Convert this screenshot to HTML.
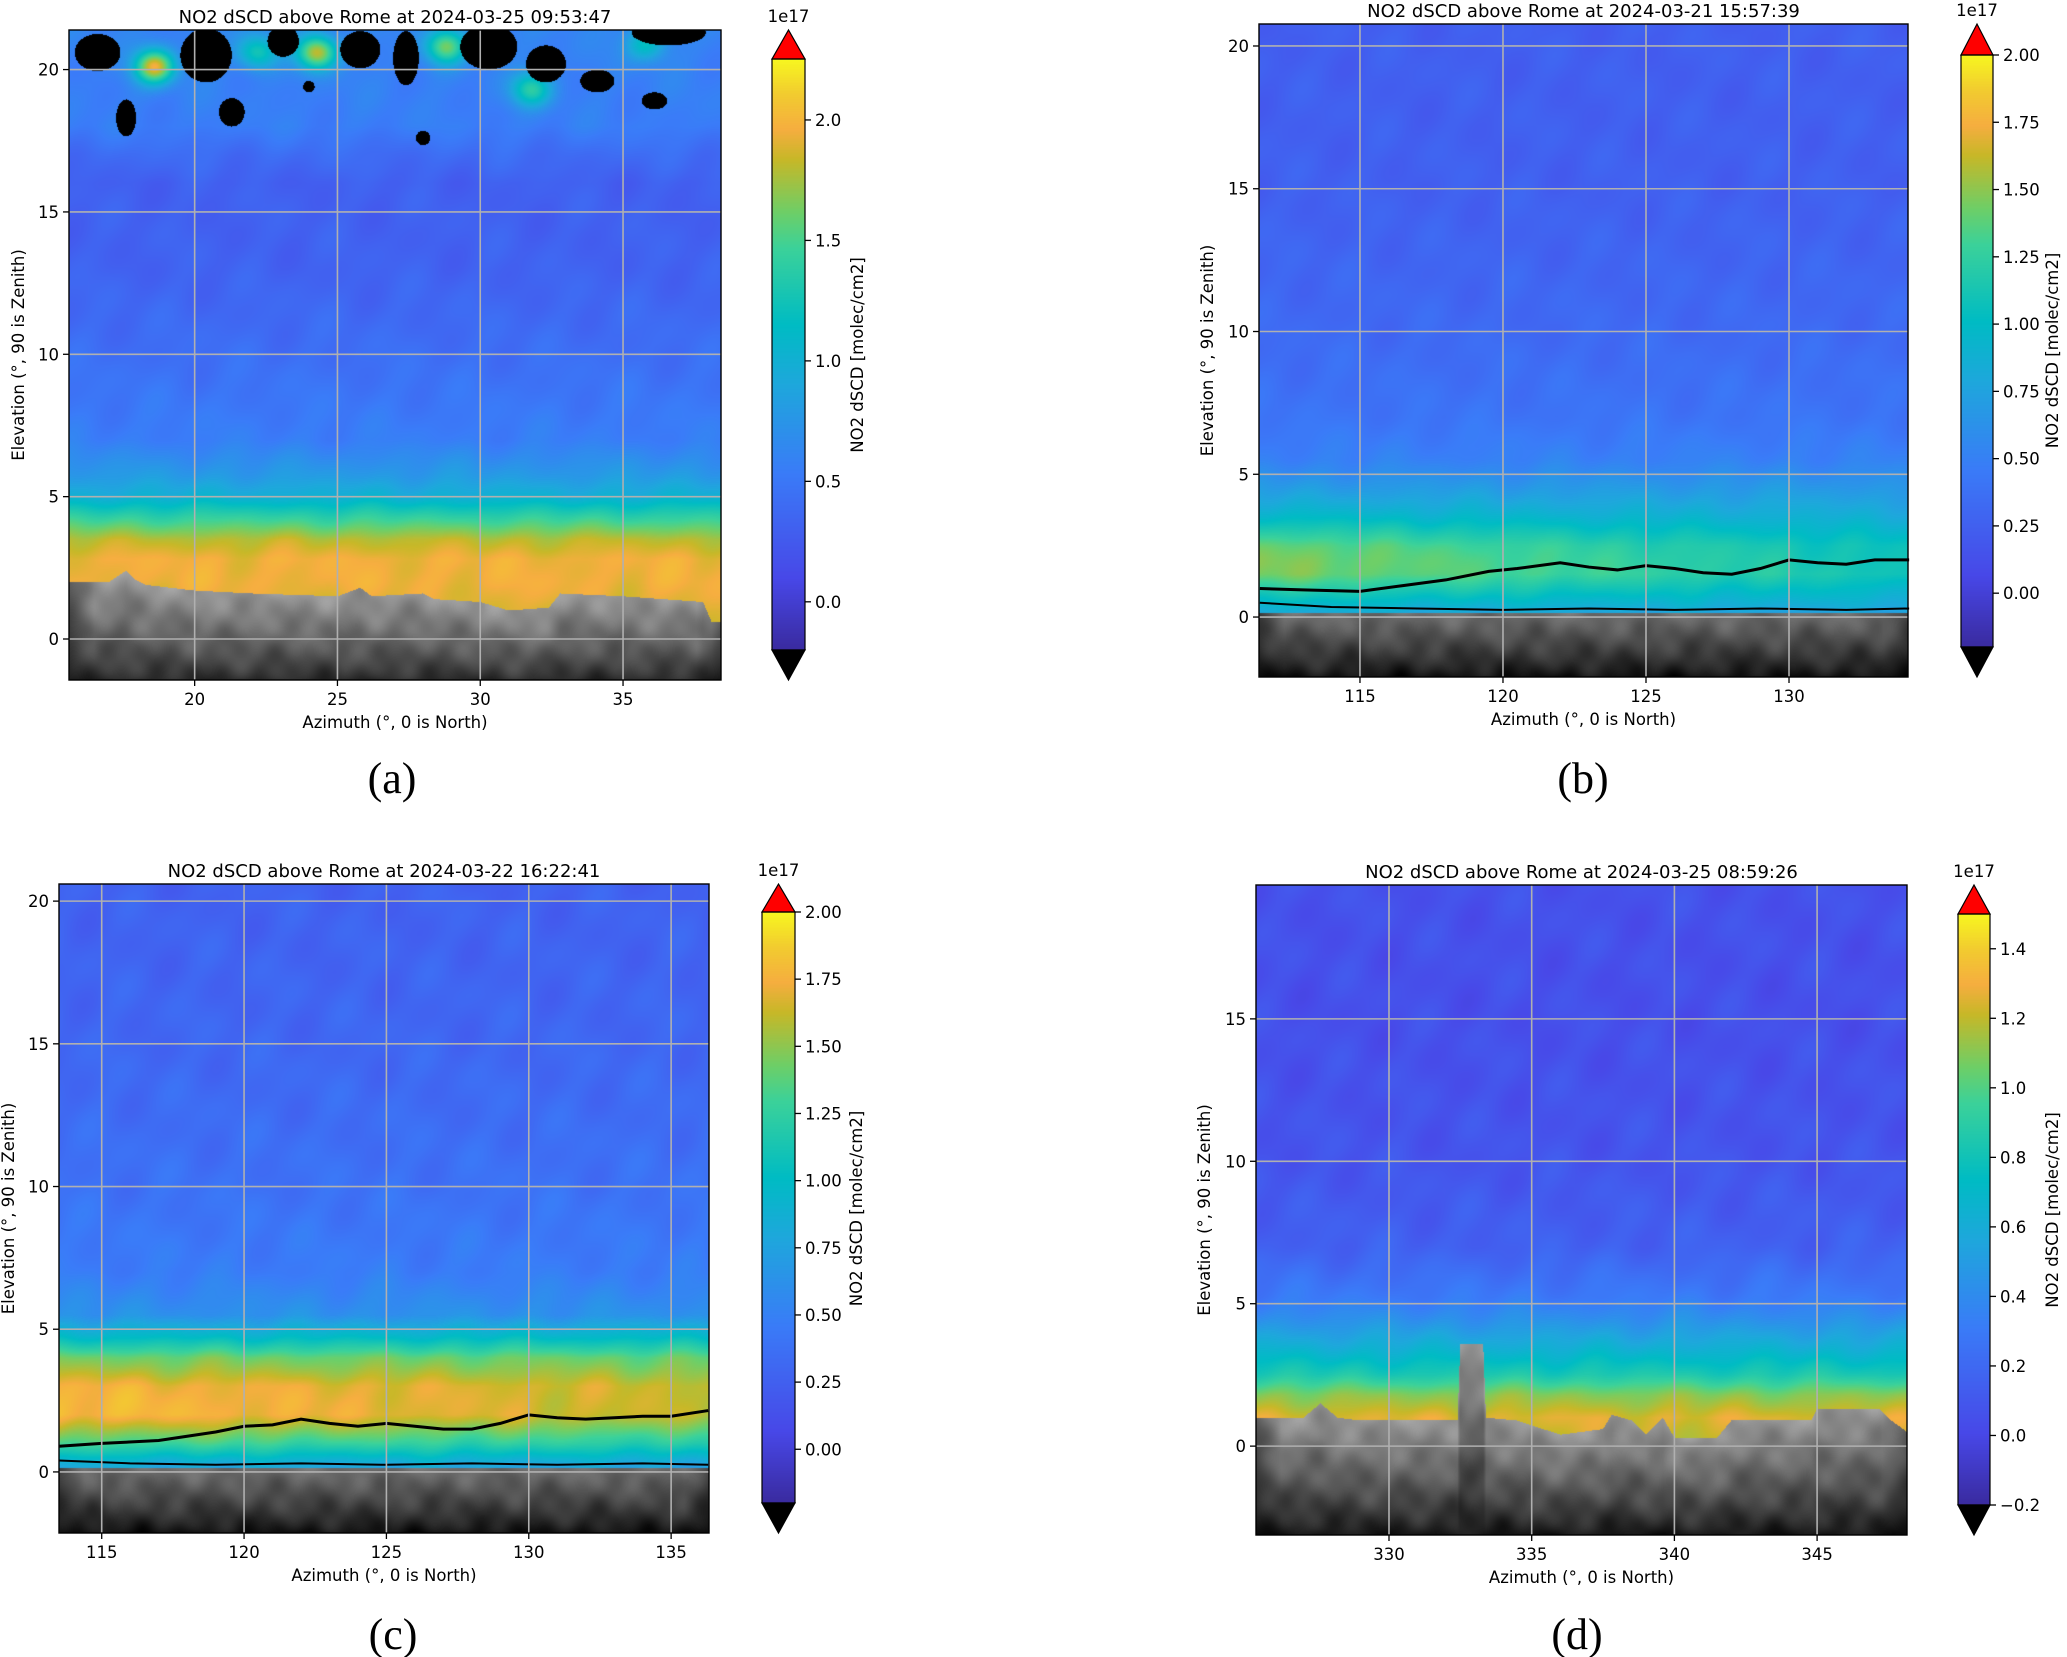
<!DOCTYPE html>
<html><head><meta charset="utf-8">
<style>
html,body{margin:0;padding:0;background:#fff;}
#root{position:relative;width:2067px;height:1657px;overflow:hidden;background:#fff;font-family:"DejaVu Sans","Liberation Sans",sans-serif;}
canvas{position:absolute;}
svg{position:absolute;left:0;top:0;}
</style></head>
<body>
<div id="root">
<svg id="ov" width="2067" height="1657"></svg>
</div>
<script>
// ===== data arrays =====
const aXTicks=[20,25,30,35];
const aYTicks=[0,5,10,15,20];
const aCbTicks=[0.0,0.5,1.0,1.5,2.0];
const aCbLabels=["0.0","0.5","1.0","1.5","2.0"];
const aProfEl=[-1.5,1,2,2.8,3.5,4.3,5,5.7,7,10,13,16,17,18,21.4];
const aProfV=[1.9,1.9,1.95,1.95,1.8,1.4,1.0,0.8,0.55,0.42,0.32,0.3,0.4,0.55,0.6];
const aSkyAz=[15.6,17,17.6,17.9,18.3,20,22,25,25.8,26.2,28,28.4,30,31,32.4,32.8,35,37.8,38.1,38.4];
const aSkyEl=[2.0,2.0,2.4,2.1,1.9,1.7,1.6,1.5,1.8,1.5,1.6,1.4,1.3,1.0,1.1,1.6,1.5,1.3,0.6,0.6];
const aBlobAz=[16.6,17.6,20.4,21.3,23.1,25.8,27.4,30.3,32.3,34.1,36.6,36.1,28.0,24.0];
const aBlobEl=[20.6,18.3,20.5,18.5,21.0,20.7,20.4,20.8,20.2,19.6,21.3,18.9,17.6,19.4];
const aBlobRx=[0.8,0.35,0.9,0.45,0.55,0.7,0.45,1.0,0.7,0.6,1.3,0.45,0.25,0.2];
const aBlobRy=[0.65,0.65,0.95,0.5,0.55,0.65,0.95,0.8,0.65,0.4,0.45,0.3,0.25,0.2];
const aHotAz=[18.6,24.3,28.8,31.8,22.2,35.8];
const aHotEl=[20.1,20.6,20.8,19.3,20.6,20.9];
const aHotV=[2.05,1.95,1.7,1.5,1.4,1.3];

const bXTicks=[115,120,125,130];
const bYTicks=[0,5,10,15,20];
const bCbTicks=[0,0.25,0.5,0.75,1.0,1.25,1.5,1.75,2.0];
const bCbLabels=["0.00","0.25","0.50","0.75","1.00","1.25","1.50","1.75","2.00"];
const bProfEl=[-2.1,0,0.5,1.5,2.5,3.5,4.5,5.5,7,10,15,20.8];
const bProfV=[0.7,0.7,0.85,1.1,1.05,0.85,0.68,0.5,0.4,0.32,0.25,0.24];
const bSkyAz=[111.5,134.2];
const bSkyEl=[0.15,0.15];
const bLineAz=[111.5,113,115,116.5,118,119.5,120.5,122,123,124,125,126,127,128,129,130,131,132,133,134.2];
const bLineEl=[1.0,0.95,0.9,1.1,1.3,1.6,1.7,1.9,1.75,1.65,1.8,1.7,1.55,1.5,1.7,2.0,1.9,1.85,2.0,2.0];
const bLine2Az=[111.5,114,117,120,123,126,129,132,134.2];
const bLine2El=[0.5,0.35,0.3,0.25,0.3,0.25,0.3,0.25,0.3];

const cXTicks=[115,120,125,130,135];
const cYTicks=[0,5,10,15,20];
const cCbTicks=[0,0.25,0.5,0.75,1.0,1.25,1.5,1.75,2.0];
const cCbLabels=["0.00","0.25","0.50","0.75","1.00","1.25","1.50","1.75","2.00"];
const cProfEl=[-2.2,0,0.3,1,2,3,4,4.7,5.5,7,10,15,20.6];
const cProfV=[0.7,0.7,0.8,1.2,1.6,1.62,1.4,1.0,0.62,0.46,0.38,0.3,0.26];
const cSkyAz=[113.5,136.3];
const cSkyEl=[0.12,0.12];
const cLineAz=[113.5,115,117,119,120,121,122,123,124,125,126,127,128,129,130,131,132,133,134,135,136.3];
const cLineEl=[0.9,1.0,1.1,1.4,1.6,1.65,1.85,1.7,1.6,1.7,1.6,1.5,1.5,1.7,2.0,1.9,1.85,1.9,1.95,1.95,2.15];
const cLine2Az=[113.5,116,119,122,125,128,131,134,136.3];
const cLine2El=[0.4,0.3,0.25,0.3,0.25,0.3,0.25,0.3,0.25];

const dXTicks=[330,335,340,345];
const dYTicks=[0,5,10,15];
const dCbTicks=[-0.2,0,0.2,0.4,0.6,0.8,1.0,1.2,1.4];
const dCbLabels=["\u22120.2","0.0","0.2","0.4","0.6","0.8","1.0","1.2","1.4"];
const dProfEl=[-3.2,0,1,1.8,2.5,3.5,4.5,5.2,7,10,15,19.7];
const dProfV=[1.2,1.2,1.25,1.1,0.85,0.62,0.42,0.3,0.15,0.08,0.05,0.06];
const dSkyAz=[325.3,327,327.6,328.2,329,332.4,332.5,333.3,333.4,334.5,336,337.5,337.8,338.5,339,339.6,340,341.5,342,344.8,345,347.2,347.6,348.15];
const dSkyEl=[1.0,1.0,1.5,1.0,0.9,0.9,3.6,3.6,1.0,0.9,0.4,0.6,1.1,0.9,0.4,1.0,0.3,0.3,0.9,0.9,1.3,1.3,0.9,0.5];

// ===== helpers =====
const NS="http://www.w3.org/2000/svg";
const ov=document.getElementById('ov');
const root=document.getElementById('root');
const stops=[[0,[58,43,160]],[0.12,[72,72,232]],[0.3,[58,124,248]],[0.45,[30,168,220]],[0.55,[0,188,196]],[0.68,[60,210,154]],[0.74,[110,207,104]],[0.83,[200,184,40]],[0.88,[246,174,64]],[0.94,[242,204,48]],[1,[248,248,32]]];
function cmap(t){
  if(t>1) return [255,0,0]; if(t<0) return [0,0,0];
  for(let i=1;i<stops.length;i++){ if(t<=stops[i][0]){const a=stops[i-1],b=stops[i];const f=(t-a[0])/(b[0]-a[0]);return [0,1,2].map(k=>a[1][k]+(b[1][k]-a[1][k])*f);} }
  return stops[stops.length-1][1];
}
function interp(xs,ys,x){
  if(x<=xs[0])return ys[0]; if(x>=xs[xs.length-1])return ys[ys.length-1];
  for(let i=1;i<xs.length;i++){ if(x<=xs[i]){const f=(x-xs[i-1])/(xs[i]-xs[i-1]);return ys[i-1]+(ys[i]-ys[i-1])*f;} }
}
function el(tag,attrs,parent,name,text){
  const e=document.createElementNS(NS,tag);
  for(const k in attrs)e.setAttribute(k,attrs[k]);
  if(text!==undefined)e.textContent=text;
  (parent||ov).appendChild(e);
  return e;
}

function panel(c){
  const xs=v=>c.L+(v-c.x0)/(c.x1-c.x0)*(c.R-c.L);
  const ys=v=>c.B-(v-c.y0)/(c.y1-c.y0)*(c.B-c.T);
  const W=c.R-c.L,H=c.B-c.T;
  const cv=document.createElement('canvas');
  cv.width=W;cv.height=H;cv.style.left=c.L+'px';cv.style.top=c.T+'px';
  
  
  root.insertBefore(cv,ov);
  const ctx=cv.getContext('2d');const img=ctx.createImageData(W,H);
  for(let py=0;py<H;py++){
    const e=c.y1-(py+0.5)/H*(c.y1-c.y0);
    for(let px=0;px<W;px++){
      const a=c.x0+(px+0.5)/W*(c.x1-c.x0);
      const sky=interp(c.skyAz,c.skyEl,a);
      let r,g,b;
      if(e<sky){
        const f=(e-c.y0)/(sky-c.y0);
        const tex=14*Math.sin(a*2.3+e*1.1)*Math.cos(e*2.7-a*0.9)+8*Math.sin(a*5.3)*Math.sin(e*4.1);
        let L=c.gBot+(c.gTop-c.gBot)*Math.pow(f,0.8)+tex;
        const edge=Math.min(px,W-px);if(edge<25)L*=0.6+0.4*edge/25;
        L=Math.max(0,Math.min(255,L));r=g=b=L;
      } else {
        let v=interp(c.profEl,c.profV,e);
        v+=c.noise*(Math.sin(a*1.7+e*0.9)*Math.cos(e*1.3-a*0.6)+0.5*Math.sin(a*3.1-e*2.2));
        if(c.tilt) v+=c.tilt*(c.x1-a)/(c.x1-c.x0)*Math.exp(-Math.pow((e-2)/1.5,2));
        let black=false;
        if(c.hotAz){for(let i=0;i<c.hotAz.length;i++){const dx=(a-c.hotAz[i])/0.7,dy=(e-c.hotEl[i])/0.6;v+=(c.hotV[i]-0.7)*Math.exp(-(dx*dx+dy*dy));}}
        if(c.blobAz){for(let i=0;i<c.blobAz.length;i++){const dx=(a-c.blobAz[i])/c.blobRx[i],dy=(e-c.blobEl[i])/c.blobRy[i];if(dx*dx+dy*dy<1)black=true;}}
        const t=(v-c.vmin)/(c.vmax-c.vmin);
        [r,g,b]=black?[0,0,0]:cmap(Math.min(0.999,Math.max(0.001,t)));
      }
      const k=(py*W+px)*4;img.data[k]=r;img.data[k+1]=g;img.data[k+2]=b;img.data[k+3]=255;
    }
  }
  ctx.putImageData(img,0,0);
  const gp=el('g',{},ov);
  [[c.lineAz,c.lineEl],[c.line2Az,c.line2El]].forEach(([la,le],j)=>{
    if(!la)return;
    const p=el('polyline',{points:la.map((v,i)=>xs(v)+','+ys(le[i])).join(' '),fill:'none',stroke:'#000','stroke-width':j?2:3},gp);
    
  });
  c.xt.forEach(v=>{const l=el('line',{x1:xs(v),x2:xs(v),y1:c.T,y2:c.B,stroke:'#b0b0b0','stroke-width':1.6},gp);
    const t=el('line',{x1:xs(v),x2:xs(v),y1:c.B,y2:c.B+6,stroke:'#000','stroke-width':1.3},gp);
    const tx=el('text',{x:xs(v),y:c.B+25,'text-anchor':'middle','font-size':16.5},gp,null,String(v));});
  c.yt.forEach(v=>{const l=el('line',{x1:c.L,x2:c.R,y1:ys(v),y2:ys(v),stroke:'#b0b0b0','stroke-width':1.6},gp);
    const t=el('line',{x1:c.L-6,x2:c.L,y1:ys(v),y2:ys(v),stroke:'#000','stroke-width':1.3},gp);
    const tx=el('text',{x:c.L-10,y:ys(v)+6,'text-anchor':'end','font-size':16.5},gp,null,String(v));});
  const fr=el('rect',{x:c.L,y:c.T,width:W,height:H,fill:'none',stroke:'#000','stroke-width':1.4},gp);
  const ti=el('text',{x:(c.L+c.R)/2,y:c.T-7,'text-anchor':'middle','font-size':18},gp,null,c.title);
  const xl=el('text',{x:(c.L+c.R)/2,y:c.B+48,'text-anchor':'middle','font-size':16.5},gp,null,'Azimuth (°, 0 is North)');
  const yl=el('text',{x:0,y:0,'text-anchor':'middle','font-size':16.5,transform:`translate(${c.ylx},${(c.T+c.B)/2}) rotate(-90)`},gp,null,'Elevation (°, 90 is Zenith)');
  const cap=el('text',{x:c.capX,y:c.capY,'text-anchor':'middle','font-size':44,'font-family':'"Liberation Serif",serif'},gp,null,c.cap);
  const cs=v=>c.cbB-(v-c.vmin)/(c.vmax-c.vmin)*(c.cbB-c.cbT);
  const cw=c.cbR-c.cbL;
  const cc=document.createElement('canvas');cc.width=cw;cc.height=c.cbB-c.cbT;cc.style.left=c.cbL+'px';cc.style.top=c.cbT+'px';
  
  
  root.insertBefore(cc,ov);
  const x2=cc.getContext('2d');
  for(let y=0;y<cc.height;y++){const [r,g,b]=cmap(1-(y+0.5)/cc.height);x2.fillStyle=`rgb(${r|0},${g|0},${b|0})`;x2.fillRect(0,y,cw,1);}
  const cg=el('g',{},ov);
  const mid=(c.cbL+c.cbR)/2;
  const up=el('polygon',{points:`${c.cbL},${c.cbT} ${c.cbR},${c.cbT} ${mid},${c.T}`,fill:'#ff0000',stroke:'#000','stroke-width':1.2},cg);
  const dn=el('polygon',{points:`${c.cbL},${c.cbB} ${c.cbR},${c.cbB} ${mid},${c.B}`,fill:'#000',stroke:'#000','stroke-width':1.2},cg);
  const cr=el('rect',{x:c.cbL,y:c.cbT,width:cw,height:c.cbB-c.cbT,fill:'none',stroke:'#000','stroke-width':1.2},cg);
  c.cbt.forEach((v,i)=>{const t=el('line',{x1:c.cbR,x2:c.cbR+6,y1:cs(v),y2:cs(v),stroke:'#000','stroke-width':1.3},cg);
    const tx=el('text',{x:c.cbR+10,y:cs(v)+6,'font-size':16.5},cg,null,c.cbl[i]);});
  const ex=el('text',{x:mid,y:c.T-8,'text-anchor':'middle','font-size':16.5},cg,null,'1e17');
  const cl=el('text',{x:0,y:0,'text-anchor':'middle','font-size':16.5,transform:`translate(${c.cblx},${(c.T+c.B)/2}) rotate(-90)`},cg,null,'NO2 dSCD [molec/cm2]');
}

panel({id:'panel-a',title:'NO2 dSCD above Rome at 2024-03-25 09:53:47',cap:'(a)',capX:392,capY:793,
  L:69,R:721,T:30,B:680,x0:15.6,x1:38.43,y0:-1.44,y1:21.39,xt:aXTicks,yt:aYTicks,ylx:24,
  vmin:-0.2,vmax:2.253,cbL:772,cbR:805,cbT:59,cbB:650,cbt:aCbTicks,cbl:aCbLabels,cblx:863,
  profEl:aProfEl,profV:aProfV,skyAz:aSkyAz,skyEl:aSkyEl,gTop:150,gBot:40,noise:0.05,
  blobAz:aBlobAz,blobEl:aBlobEl,blobRx:aBlobRx,blobRy:aBlobRy,hotAz:aHotAz,hotEl:aHotEl,hotV:aHotV});
panel({id:'panel-b',title:'NO2 dSCD above Rome at 2024-03-21 15:57:39',cap:'(b)',capX:1583,capY:793,
  L:1259,R:1908,T:24,B:677,x0:111.47,x1:134.16,y0:-2.1,y1:20.77,xt:bXTicks,yt:bYTicks,ylx:1213,
  vmin:-0.2,vmax:2.0,cbL:1961,cbR:1993,cbT:55,cbB:647,cbt:bCbTicks,cbl:bCbLabels,cblx:2058,
  profEl:bProfEl,profV:bProfV,skyAz:bSkyAz,skyEl:bSkyEl,gTop:110,gBot:15,noise:0.04,tilt:0.4,
  lineAz:bLineAz,lineEl:bLineEl,line2Az:bLine2Az,line2El:bLine2El});
panel({id:'panel-c',title:'NO2 dSCD above Rome at 2024-03-22 16:22:41',cap:'(c)',capX:393,capY:1649,
  L:59,R:709,T:884,B:1533,x0:113.5,x1:136.33,y0:-2.14,y1:20.6,xt:cXTicks,yt:cYTicks,ylx:14,
  vmin:-0.2,vmax:2.0,cbL:762,cbR:795,cbT:912,cbB:1503,cbt:cCbTicks,cbl:cCbLabels,cblx:862,
  profEl:cProfEl,profV:cProfV,skyAz:cSkyAz,skyEl:cSkyEl,gTop:110,gBot:15,noise:0.05,tilt:0.2,
  lineAz:cLineAz,lineEl:cLineEl,line2Az:cLine2Az,line2El:cLine2El});
panel({id:'panel-d',title:'NO2 dSCD above Rome at 2024-03-25 08:59:26',cap:'(d)',capX:1577,capY:1649,
  L:1256,R:1907,T:885,B:1535,x0:325.34,x1:348.15,y0:-3.12,y1:19.7,xt:dXTicks,yt:dYTicks,ylx:1210,
  vmin:-0.2,vmax:1.5,cbL:1958,cbR:1990,cbT:914,cbB:1505,cbt:dCbTicks,cbl:dCbLabels,cblx:2058,
  profEl:dProfEl,profV:dProfV,skyAz:dSkyAz,skyEl:dSkyEl,gTop:150,gBot:20,noise:0.04});
</script>
</body></html>
